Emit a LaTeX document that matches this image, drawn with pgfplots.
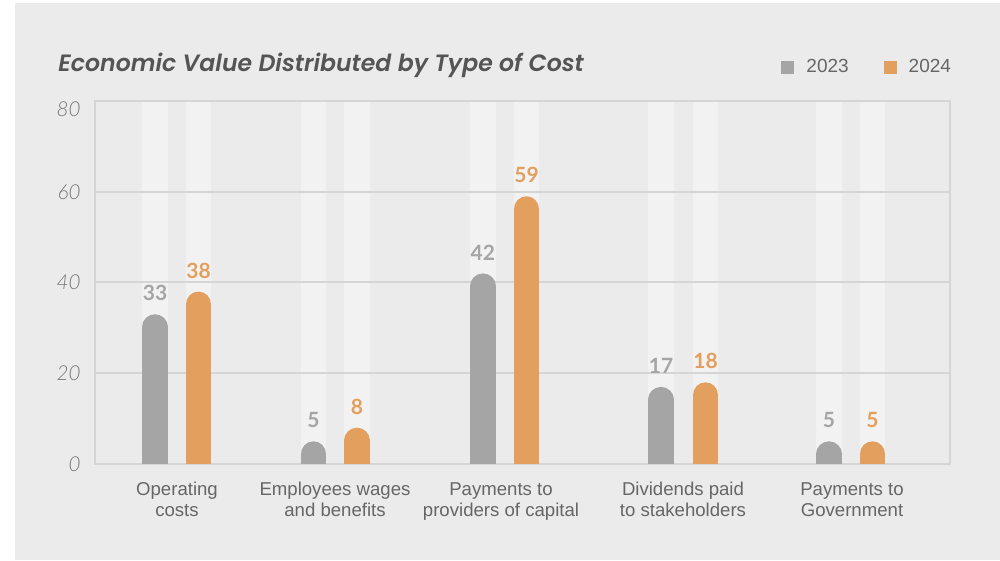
\documentclass[border=0pt]{standalone}
\usepackage{fontspec}
\setmainfont{Liberation Sans}
\newfontfamily\latof{Lato}
\newfontfamily\latolight{Lato Light}
\newfontfamily\titlefont{Poppins}[UprightFont={* SemiBold}, ItalicFont={* SemiBold Italic}]
\usepackage{pgfplots}
\usepackage{pgfplotstable}
\pgfplotsset{compat=1.18}
\definecolor{panel}{HTML}{EBEBEB}
\definecolor{trackc}{HTML}{F2F2F2}
\definecolor{gridc}{HTML}{D5D5D5}
\definecolor{barg}{HTML}{A5A5A5}
\definecolor{baro}{HTML}{E39F5E}
\definecolor{titlec}{HTML}{555555}
\definecolor{tickc}{HTML}{777777}
\definecolor{labc}{HTML}{666666}
\pgfdeclarelayer{panel}
\pgfplotsset{layers/mine/.define layer set={panel,axis background,axis grid,axis ticks,axis lines,axis tick labels,pre main,main,axis descriptions,axis foreground}{}}

\pgfplotstableread{
xg    xo    g  o
155   198.5 33 38
313.5 357   5  8
482.8 526.5 42 59
661   705.5 17 18
829   872.5 5  5
}\data

\begin{document}
\begin{tikzpicture}
\path (0,0) rectangle (500pt,280.5pt);
\begin{axis}[
  at={(47.5pt,48.5pt)}, anchor=south west,
  width=427.5pt, height=181.5pt, scale only axis,
  xmin=95, xmax=950, ymin=0, ymax=80,
  set layers=mine,
  axis line style={draw=gridc, line width=1.25pt},
  ytick={0,20,40,60},
  extra y ticks={80},
  extra y tick style={yticklabel style={yshift=-4.25pt}},
  ymajorgrids, grid style={draw=gridc, line width=1pt},
  major tick length=0pt,
  xtick={177,335,501,683,852},
  xticklabels={Operating\\costs, Employees wages\\and benefits, Payments to\\providers of capital, Dividends paid\\to stakeholders, Payments to\\Government},
  xticklabel style={align=center, font=\fontsize{9.3pt}{10.5pt}\selectfont, text=labc, anchor=north, inner sep=0pt, yshift=-9pt},
  yticklabel style={font=\latolight\itshape\fontsize{10.3pt}{12pt}\selectfont, text=tickc, anchor=east, inner sep=0pt, xshift=-7pt},
  /pgf/number format/assume math mode=true,
  title={Economic Value Distributed by Type of Cost},
  title style={font=\titlefont\itshape\fontsize{11.8pt}{14pt}\selectfont, text=titlec, at={(0,1)}, anchor=base west, inner sep=0pt, xshift=-18.5pt, yshift=9pt},
  legend columns=2,
  legend style={draw=none, fill=none, at={(1,1)}, anchor=east, xshift=0.5pt, yshift=17pt, inner sep=0pt, outer sep=0pt, font=\fontsize{9.5pt}{11pt}\selectfont, text=labc, nodes={inner sep=0pt}, /tikz/every odd column/.append style={column sep=6pt}, /tikz/every even column/.append style={column sep=17.5pt}},
]
\addplot[ycomb, forget plot, on layer=axis background, draw=trackc, line width=12.75pt] table[x=xg, y expr=80] {\data};
\addplot[ycomb, forget plot, on layer=axis background, draw=trackc, line width=12.75pt] table[x=xo, y expr=80] {\data};

\addplot[ycomb, draw=barg, line width=12.75pt, line cap=round, legend image code/.code={\fill[barg, draw=none] (0pt,-3.25pt) rectangle (6.5pt,3.25pt);}] table[x=xg, y expr=\thisrow{g}-2.81] {\data};
\addlegendentry{2023}
\addplot[ycomb, draw=baro, line width=12.75pt, line cap=round, legend image code/.code={\fill[baro, draw=none] (0pt,-3.25pt) rectangle (6.5pt,3.25pt);}] table[x=xo, y expr=\thisrow{o}-2.81] {\data};
\addlegendentry{2024}

\addplot[draw=none, forget plot, nodes near coords, point meta=explicit, nodes near coords style={font=\latof\bfseries\fontsize{10.5pt}{12pt}\selectfont, text=barg, anchor=south, inner sep=0pt, yshift=6.5pt}] table[x=xg, y=g, meta=g] {\data};
\addplot[draw=none, forget plot, nodes near coords, point meta=explicit, nodes near coords style={font=\latof\bfseries\fontsize{10.5pt}{12pt}\selectfont, text=baro, anchor=south, inner sep=0pt, yshift=6.5pt}] table[x=xo, y=o, meta=o] {\data};
\end{axis}
\begin{pgfonlayer}{panel}
\fill[panel] (7.5pt,0.5pt) rectangle (500pt,279pt);
\end{pgfonlayer}
\end{tikzpicture}
\end{document}
